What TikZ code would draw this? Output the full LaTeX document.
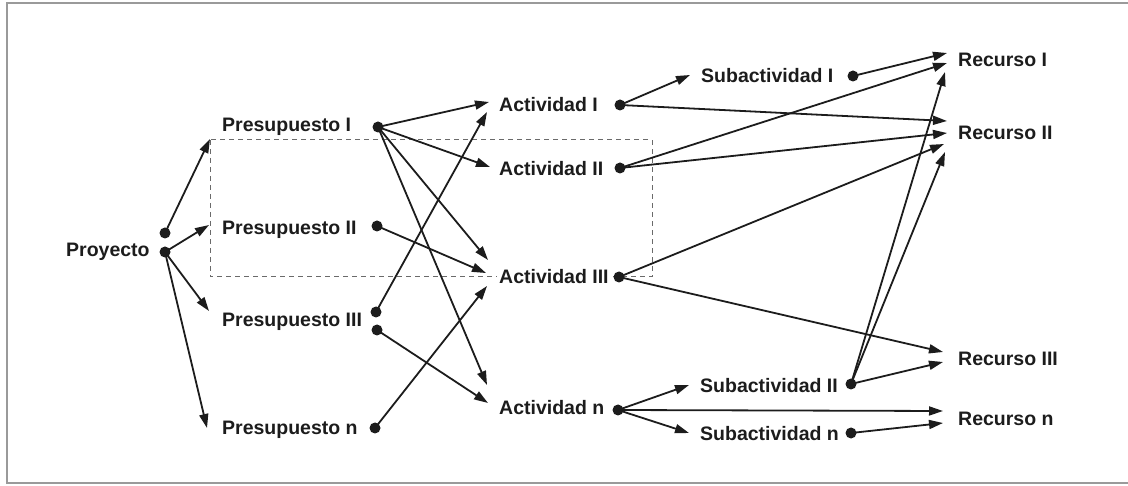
\documentclass[tikz,border=0pt]{standalone}
\usepackage{fontspec}
\setmainfont{Liberation Sans}
\usetikzlibrary{arrows.meta}
\definecolor{ink}{HTML}{1C1C1C}
\definecolor{framegray}{HTML}{9A9A9A}
\definecolor{dashgray}{HTML}{6A6A6A}
\begin{document}
\begin{tikzpicture}[x=1pt,y=-1pt,
  lbl/.style={anchor=base west,inner sep=0pt,fill=white,text=ink,
    font=\fontsize{19.5}{23}\selectfont\bfseries},
  dot/.style={circle,fill=ink,inner sep=0pt,minimum size=11pt},
  arr/.style={draw=ink,line width=1.8pt,
    -{Triangle[length=14pt,width=9pt]},shorten <=-1pt},
  groupbox/.style={draw=dashgray,line width=1pt,dash pattern=on 5pt off 4pt}]
\useasboundingbox (0,0) rectangle (1128,486);
% outer frame
\draw[framegray,line width=1.2pt] (1128,3) -- (7,3) -- (7,483) -- (1128,483);

% dashed grouping box
\draw[groupbox] (210,140) rectangle (652,277);

% labels
\node[lbl] (proy) at (66,257) {Proyecto};
\node[lbl] (pre1) at (222,132) {Presupuesto I};
\node[lbl] (pre2) at (222,235) {Presupuesto II};
\node[lbl] (pre3) at (222,327) {Presupuesto III};
\node[lbl] (pren) at (222,435) {Presupuesto n};
\node[lbl] (act1) at (499,112) {Actividad I};
\node[lbl] (act2) at (499,176) {Actividad II};
\node[lbl,inner xsep=2pt] (act3) at (497,284) {Actividad III};
\node[lbl] (actn) at (499,415) {Actividad n};
\node[lbl] (sub1) at (701,83) {Subactividad I};
\node[lbl] (sub2) at (700,393) {Subactividad II};
\node[lbl] (subn) at (700,440) {Subactividad n};
\node[lbl] (rec1) at (958,67) {Recurso I};
\node[lbl] (rec2) at (958,140) {Recurso II};
\node[lbl] (rec3) at (958,366) {Recurso III};
\node[lbl] (recn) at (958,426) {Recurso n};

% connection dots
\node[dot] (proyA) at (165,233) {};
\node[dot] (proyB) at (165,252) {};
\node[dot] (pre1d) at (378,127) {};
\node[dot] (pre2d) at (377,226) {};
\node[dot] (pre3a) at (376,312) {};
\node[dot] (pre3b) at (377,330) {};
\node[dot] (prend) at (375,428) {};
\node[dot] (act1d) at (620,105) {};
\node[dot] (act2d) at (620,168) {};
\node[dot] (act3d) at (619,277) {};
\node[dot] (actnd) at (618,410) {};
\node[dot] (sub1d) at (853,76) {};
\node[dot] (sub2d) at (851,384) {};
\node[dot] (subnd) at (851,433) {};

% arrow end points
\coordinate (boxc) at (210,139);
\coordinate (pre2in) at (209,225);
\coordinate (pre3in) at (209,311);
\coordinate (prenin) at (207,428);
\coordinate (act1inA) at (489,102);
\coordinate (act1inB) at (487,112);
\coordinate (act2in) at (490,167);
\coordinate (act3inA) at (488,260);
\coordinate (act3inB) at (486,273);
\coordinate (act3inC) at (487,286);
\coordinate (actninA) at (487,385);
\coordinate (actninB) at (488,403);
\coordinate (sub1in) at (690,75);
\coordinate (sub2in) at (689,385);
\coordinate (subnin) at (689,433);
\coordinate (rec1inA) at (947,53);
\coordinate (rec1inB) at (947,63);
\coordinate (rec1inC) at (945,72);
\coordinate (rec2inA) at (947,121);
\coordinate (rec2inB) at (947,133);
\coordinate (rec2inC) at (944,144);
\coordinate (rec2inD) at (945,152);
\coordinate (rec3inA) at (943,352);
\coordinate (rec3inB) at (943,362);
\coordinate (recninA) at (943,411);
\coordinate (recninB) at (943,423);

% Proyecto -> Presupuestos
\draw[arr] (proyA) -- (boxc);
\draw[arr] (proyB) -- (pre2in);
\draw[arr] (proyB) -- (pre3in);
\draw[arr] (proyB) -- (prenin);

% Presupuestos -> Actividades
\draw[arr] (pre1d) -- (act1inA);
\draw[arr] (pre1d) -- (act2in);
\draw[arr] (pre1d) -- (act3inA);
\draw[arr] (pre1d) -- (actninA);
\draw[arr] (pre2d) -- (act3inB);
\draw[arr] (pre3a) -- (act1inB);
\draw[arr] (pre3b) -- (actninB);
\draw[arr] (prend) -- (act3inC);

% Actividades -> Subactividades / Recursos
\draw[arr] (act1d) -- (sub1in);
\draw[arr] (act1d) -- (rec2inA);
\draw[arr] (act2d) -- (rec1inB);
\draw[arr] (act2d) -- (rec2inB);
\draw[arr] (act3d) -- (rec2inC);
\draw[arr] (act3d) -- (rec3inA);
\draw[arr] (actnd) -- (sub2in);
\draw[arr] (actnd) -- (subnin);
\draw[arr] (actnd) -- (recninA);

% Subactividades -> Recursos
\draw[arr] (sub1d) -- (rec1inA);
\draw[arr] (sub2d) -- (rec1inC);
\draw[arr] (sub2d) -- (rec2inD);
\draw[arr] (sub2d) -- (rec3inB);
\draw[arr] (subnd) -- (recninB);
\end{tikzpicture}
\end{document}
